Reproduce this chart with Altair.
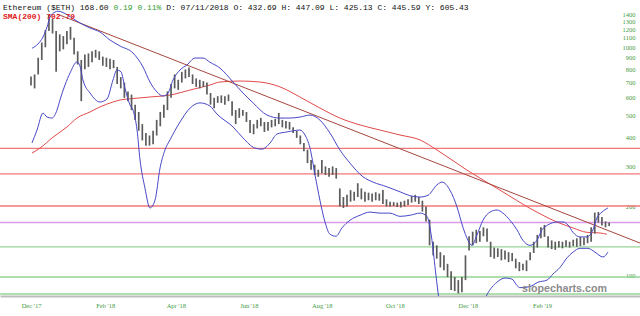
import altair as alt
import pandas as pd

BASE = pd.Timestamp("2017-12-01")
STEP_DAYS = 3

# ---- price range per 3-day bucket ----
price_lo = [680, 660, 760, 880, 1000, 1180, 1150, 780, 960, 980, 1030, 1080, 930, 840, 580, 800,
            820, 860, 900, 880, 830, 820, 800, 810, 690, 660, 600, 580, 530, 480, 430, 390,
            370, 370, 375, 410, 450, 490, 530, 600, 660, 650, 700, 730, 740, 690, 670, 660,
            670, 620, 560, 540, 570, 570, 560, 580, 500, 460, 490, 500, 470, 420, 415, 440,
            450, 425, 430, 445, 450, 460, 445, 440, 435, 420, 400, 375, 350, 310, 290, 275,
            270, 280, 275, 270, 275, 265, 200, 197, 200, 210, 212, 220, 215, 210, 213, 210,
            213, 212, 205, 200, 200, 201, 199, 198, 200, 203, 208, 210, 205, 190, 172, 135,
            122, 118, 108, 105, 98, 86, 85, 83, 84, 95, 128, 135, 138, 140, 148, 140,
            120, 118, 120, 116, 117, 114, 115, 107, 104, 105, 104, 116, 125, 132, 145, 147,
            132, 130, 129, 132, 131, 133, 132, 134, 133, 134, 135, 138, 140, 152, 170, 165,
            162, 164]
price_hi = [745, 760, 900, 1050, 1190, 1390, 1330, 1180, 1140, 1120, 1180, 1230, 1100, 960, 880, 930,
            940, 960, 975, 960, 910, 900, 890, 880, 820, 740, 700, 640, 620, 560, 520, 460,
            420, 410, 430, 480, 520, 560, 640, 690, 760, 720, 780, 800, 815, 760, 730, 720,
            710, 700, 630, 600, 610, 615, 610, 620, 580, 530, 540, 530, 520, 480, 460, 480,
            490, 470, 470, 480, 485, 515, 480, 475, 470, 445, 430, 410, 380, 355, 320, 305,
            290, 320, 300, 295, 300, 295, 240, 220, 225, 236, 232, 253, 240, 232, 230, 228,
            231, 228, 236, 215, 210, 209, 208, 210, 212, 215, 222, 225, 220, 212, 200, 175,
            140, 135, 126, 122, 112, 104, 98, 95, 98, 122, 148, 155, 158, 156, 162, 160,
            140, 132, 131, 130, 128, 126, 125, 118, 114, 112, 116, 126, 140, 150, 162, 166,
            148, 142, 140, 141, 140, 142, 140, 143, 145, 147, 146, 150, 162, 188, 189, 180,
            172, 170]

# ---- Bollinger upper band (days from 2017-12-01, value) ----
ub_day = [0.8, 5.8, 10.0, 13.4, 15.9, 20.1, 22.6, 29.2, 36.8, 40.9, 49.3, 57.6, 66.0, 74.4, 85.2,
          93.6, 99.4, 105.3, 110.3, 114.5, 118.6, 124.5, 130.3, 137.0, 143.7, 149.5, 157.9, 168.8,
          177.1, 185.5, 197.2, 208.0, 216.4, 224.7, 233.1, 241.4, 249.8, 258.1, 266.5, 277.4,
          285.7, 297.4, 308.3, 316.6, 325.0, 331.7, 339.2, 343.4, 350.0, 355.9, 360.9, 365.1,
          368.4, 372.6, 377.6, 383.5, 389.3, 394.3, 400.2, 406.0, 411.0, 416.9, 422.7, 426.9,
          431.9, 439.4, 444.4, 448.6, 452.8, 458.6, 464.5, 469.5, 472.8, 477.0, 482.0]
ub_val = [990, 1034, 1109, 1228, 1358, 1428, 1440, 1400, 1318, 1279, 1215, 1167, 1076, 1013, 944,
          819, 704, 636, 611, 630, 718, 795, 836, 897, 897, 860, 810, 704,
          630, 570, 504, 489, 489, 494, 504, 479, 420, 354, 310, 270,
          256, 244, 232, 223, 220, 224, 249, 256, 236, 199, 162, 142,
          135, 150, 174, 189, 193, 187, 174, 158, 142, 135, 142, 158,
          166, 171, 171, 166, 154, 147, 147, 158, 178, 189, 197]

# ---- Bollinger lower band ----
lb_day = [0.8, 5.0, 10.0, 13.4, 17.5, 21.7, 24.2, 28.4, 32.6, 38.4, 40.9, 43.4, 49.3, 57.6, 63.5,
          68.5, 71.8, 75.2, 78.5, 82.7, 85.2, 88.6, 91.1, 95.2, 99.4, 103.6, 107.8, 111.9, 116.1,
          124.5, 132.9, 141.2, 149.5, 155.4, 168.8, 177.1, 187.1, 193.0, 199.7, 205.5, 213.9,
          224.7, 228.9, 233.1, 237.3, 241.4, 245.6, 249.8, 254.8, 259.8, 266.5, 274.9, 283.2,
          291.6, 299.9, 308.3, 316.6, 325.0, 330.8, 335.0, 338.3, 340.9, 345.9, 358.4, 370.9,
          377.6, 381.0, 389.3, 396.0, 401.8, 406.0, 408.5, 416.9, 423.6, 431.1, 436.1, 442.0,
          447.8, 452.8, 458.6, 465.3, 471.2, 477.9, 482.0]
lb_val = [380, 433, 514, 494, 489, 530, 587, 683, 771, 862, 828, 718, 630, 575, 593,
          718, 795, 780, 662, 558, 530, 433, 320, 241, 197, 213, 295, 354, 392,
          470, 541, 570, 552, 509, 447, 400, 361, 357, 380, 416, 425,
          433, 412, 361, 275, 213, 171, 151, 148, 161, 174, 183, 189,
          187, 187, 181, 183, 187, 181, 142, 100, 78, 60, 48, 58,
          75, 82, 93, 97, 96, 90, 88, 89, 93, 95, 101, 108,
          119, 126, 131, 131, 126, 120, 126]

# ---- SMA(200) ----
sma_day = [0.8, 7.5, 18.4, 30.1, 38.4, 49.3, 57.6, 68.5, 74.4, 82.7, 99.4, 116.1, 132.8, 149.5,
           157.9, 174.6, 191.3, 208.0, 224.7, 241.4, 258.1, 274.9, 291.6, 308.3, 325.0, 339.2,
           364.2, 391.8, 419.4, 439.4, 452.8, 464.5, 475.4, 481.2]
sma_val = [343, 361, 403, 447, 489, 520, 547, 575, 587, 594, 605, 617, 649, 683,
           704, 711, 704, 670, 605, 541, 489, 456, 433, 412, 392, 354,
           289, 236, 193, 171, 161, 154, 153, 151]

# ---- trend line ----
trend_day = [21.7, 508.8]
trend_val = [1400, 138.2]

# ---- horizontal levels ----
level_val = [360, 278, 201, 170, 133, 98, 82.5]
level_kind = ["red", "red", "red", "purple", "green", "green", "green"]

y_ticks = [100, 200, 300, 400, 500, 600, 700, 800, 900, 1000, 1100, 1200, 1300, 1400]
x_tick_months = ["2017-12-01", "2018-02-01", "2018-04-01", "2018-06-01", "2018-08-01",
                 "2018-10-01", "2018-12-01", "2019-02-01"]

head_name = "Ethereum ($ETH) 168.60"
head_change = "0.19 0.11%"
head_rest = "D: 07/11/2018 O:  432.69 H:  447.09 L:  425.13 C:  445.59 Y:  605.43"
head_sma = "SMA(200) 702.79"
watermark = "slopecharts.com"

# ---------------------------------------------------------------
def when(days):
    return [BASE + pd.Timedelta(days=float(d)) for d in days]


def dt(ts):
    return alt.DateTime(year=int(ts.year), month=int(ts.month), date=int(ts.day),
                        hours=int(ts.hour), minutes=int(ts.minute))


bars = pd.DataFrame({"t": when([i * STEP_DAYS for i in range(len(price_lo))]),
                     "lo": price_lo, "hi": price_hi})
ub = pd.DataFrame({"t": when(ub_day), "v": ub_val})
lb = pd.DataFrame({"t": when(lb_day), "v": lb_val})
sma = pd.DataFrame({"t": when(sma_day), "v": sma_val})
trend = pd.DataFrame({"t": when(trend_day), "v": trend_val})
colors = {"red": "#f27777", "purple": "#d99be8", "green": "#94d494"}
levels = pd.DataFrame({"v": level_val, "c": [colors[k] for k in level_kind]})

x_start = BASE - pd.Timedelta(days=25.9)
x_end = BASE + pd.Timedelta(days=508.8)
xscale = alt.Scale(domain=[dt(x_start), dt(x_end)], nice=False)
yscale = alt.Scale(type="log", domain=[80.9, 1613], nice=False, zero=False)

GREEN_TXT = "#3f9b3f"
xaxis = alt.Axis(values=[dt(pd.Timestamp(m)) for m in x_tick_months], format="%b '%y",
                 labelFont="Liberation Serif", labelFontSize=6.5, labelColor=GREEN_TXT,
                 ticks=False, grid=False, domain=True, domainColor="#bdbdbd", domainWidth=2,
                 labelPadding=6, title=None, labelFlush=False, labelOverlap=False)
yaxis = alt.Axis(orient="right", values=y_ticks, format="d",
                 labelFont="Liberation Serif", labelFontSize=6.5, labelColor=GREEN_TXT,
                 ticks=False, tickSize=0, domain=False, grid=False, labelPadding=-5,
                 labelAlign="right", labelBaseline="middle", title=None,
                 labelOverlap=False, labelFlush=False)

X = alt.X("t:T", scale=xscale, axis=xaxis)

lvl = alt.Chart(levels).mark_rule(strokeWidth=1.4).encode(
    y=alt.Y("v:Q", scale=yscale, axis=yaxis), color=alt.Color("c:N", scale=None))


def line(df, color, width=1.0):
    return alt.Chart(df).mark_line(color=color, strokeWidth=width, clip=True,
                                   interpolate="monotone").encode(
        x=X, y=alt.Y("v:Q", scale=yscale, axis=yaxis))


candles = alt.Chart(bars).mark_rule(strokeWidth=1.7, color="#5c5c5c").encode(
    x=X, y=alt.Y("lo:Q", scale=yscale, axis=yaxis), y2="hi:Q")

trend_layer = alt.Chart(trend).mark_line(color="#a6463e", strokeWidth=1, clip=True).encode(
    x=X, y=alt.Y("v:Q", scale=yscale, axis=yaxis))


def label(text, x, y, color, bold=False, font="Liberation Mono", size=8, align="left"):
    return alt.Chart(pd.DataFrame({"s": [text]})).mark_text(
        align=align, baseline="alphabetic", font=font, fontSize=size,
        fontWeight="bold" if bold else "normal", color=color).encode(
        x=alt.value(x), y=alt.value(y), text="s:N")


CW = 4.8
texts = [
    label(head_name, 3, 9.5, "#111111"),
    label(head_change, 3 + 23 * CW, 9.5, "#2e9e2e"),
    label(head_rest, 3 + 34 * CW, 9.5, "#111111"),
    label(head_sma, 3, 19, "#e02020", bold=True),
    label(watermark, 607, 291.5, "#8c8c8c", bold=True, font="Liberation Sans", size=10.7,
          align="right"),
]

chart = alt.layer(
    lvl,
    line(sma, "#e24a4a"),
    trend_layer,
    candles,
    line(ub, "#4848c8"),
    line(lb, "#4848c8"),
    *texts,
).properties(
    width=640, height=296,
    padding={"left": 0, "right": 0, "top": 0, "bottom": 20},
    autosize="none",
).configure_view(stroke=None)

chart.save("out.html", embed_options={"renderer": "svg", "actions": False})
